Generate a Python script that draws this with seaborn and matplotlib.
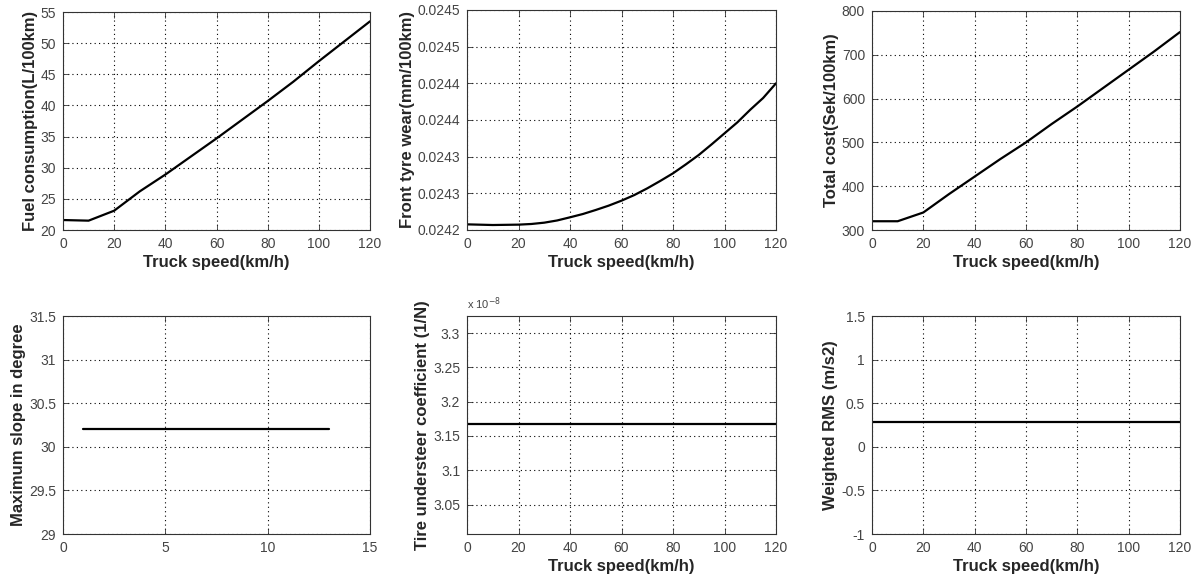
import matplotlib
matplotlib.use("Agg")
import matplotlib.pyplot as plt
import seaborn as sns
import pandas as pd
from matplotlib.ticker import FixedLocator, FixedFormatter

# ---- data ----
speed = [0, 10, 20, 30, 40, 50, 60, 70, 80, 90, 100, 110, 120]
fuel = [21.6, 21.5, 23.1, 26.2, 28.9, 31.8, 34.7, 37.7, 40.7, 43.8, 47.1, 50.3, 53.5]
cost = [320, 320, 340, 382, 422, 462, 500, 542, 582, 624, 666, 708, 752]
wear_speed = [0, 10, 20, 25, 30, 35, 40, 45, 50, 55, 60, 65, 70, 75, 80,
              85, 90, 95, 100, 105, 110, 115, 120]
wear = [0.0242077, 0.0242068, 0.0242073, 0.0242082, 0.0242100, 0.0242130,
        0.0242173, 0.0242218, 0.0242273, 0.0242332, 0.0242400, 0.0242477,
        0.0242568, 0.0242668, 0.0242773, 0.0242895, 0.0243023, 0.0243168,
        0.0243318, 0.0243468, 0.0243640, 0.0243800, 0.0244000]
slope_x = [1, 2, 3, 4, 5, 6, 7, 8, 9, 10, 11, 12, 13]
slope = [30.2] * 13
understeer = [3.168e-8] * 13
rms = [0.29] * 13

speed_ticks = [0, 20, 40, 60, 80, 100, 120]
fuel_ticks = [20, 25, 30, 35, 40, 45, 50, 55]
wear_ticks = [0.02420, 0.02425, 0.02430, 0.02435, 0.02440, 0.02445, 0.02450]
wear_labels = ["0.0242", "0.0243", "0.0243", "0.0244", "0.0244", "0.0245", "0.0245"]
cost_ticks = [300, 400, 500, 600, 700, 800]
slope_xticks = [0, 5, 10, 15]
slope_ticks = [29, 29.5, 30, 30.5, 31, 31.5]
slope_labels = ["29", "29.5", "30", "30.5", "31", "31.5"]
under_ticks = [3.05e-8, 3.10e-8, 3.15e-8, 3.20e-8, 3.25e-8, 3.30e-8]
under_labels = ["3.05", "3.1", "3.15", "3.2", "3.25", "3.3"]
rms_ticks = [-1, -0.5, 0, 0.5, 1, 1.5]
rms_labels = ["-1", "-0.5", "0", "0.5", "1", "1.5"]

XLABEL = "Truck speed(km/h)"

sns.set_style("ticks")
plt.rcParams["font.family"] = ["Liberation Sans", "DejaVu Sans"]

fig = plt.figure(figsize=(11.96, 5.77), dpi=100)

W, H = 1196, 577
def pos(l, t, r, b):
    return [l / W, 1 - b / H, (r - l) / W, (b - t) / H]

panels = [
    dict(rect=pos(63, 12, 370, 230), x=speed, y=fuel, xlim=(0, 120), ylim=(20, 55),
         xt=speed_ticks, yt=fuel_ticks, ytl=None, ylabel="Fuel consumption(L/100km)", xlabel=XLABEL),
    dict(rect=pos(467, 10, 776, 230), x=wear_speed, y=wear, xlim=(0, 120), ylim=(0.02420, 0.02450),
         xt=speed_ticks, yt=wear_ticks, ytl=wear_labels, ylabel="Front tyre wear(mm/100km)", xlabel=XLABEL),
    dict(rect=pos(872, 11, 1180, 230), x=speed, y=cost, xlim=(0, 120), ylim=(300, 800),
         xt=speed_ticks, yt=cost_ticks, ytl=None, ylabel="Total cost(Sek/100km)", xlabel=XLABEL),
    dict(rect=pos(63, 316, 370, 534), x=slope_x, y=slope, xlim=(0, 15), ylim=(29, 31.5),
         xt=slope_xticks, yt=slope_ticks, ytl=slope_labels, ylabel="Maximum slope in degree", xlabel=None),
    dict(rect=pos(467, 316, 776, 534), x=speed, y=understeer, xlim=(0, 120), ylim=(3.007e-8, 3.325e-8),
         xt=speed_ticks, yt=under_ticks, ytl=under_labels, ylabel="Tire understeer coefficient (1/N)", xlabel=XLABEL),
    dict(rect=pos(872, 316, 1180, 534), x=speed, y=rms, xlim=(0, 120), ylim=(-1, 1.5),
         xt=speed_ticks, yt=rms_ticks, ytl=rms_labels, ylabel="Weighted RMS (m/s2)", xlabel=XLABEL),
]

for i, p in enumerate(panels):
    ax = fig.add_axes(p["rect"])
    df = pd.DataFrame({"x": p["x"], "y": p["y"]})
    sns.lineplot(data=df, x="x", y="y", ax=ax, color="black", linewidth=1.6, estimator=None)
    ax.set_xlim(*p["xlim"])
    ax.set_ylim(*p["ylim"])
    ax.xaxis.set_major_locator(FixedLocator(p["xt"]))
    ax.yaxis.set_major_locator(FixedLocator(p["yt"]))
    if p["ytl"] is not None:
        ax.yaxis.set_major_formatter(FixedFormatter(p["ytl"]))
    ax.grid(True, linestyle=(0, (1, 3)), color="black", linewidth=0.8)
    ax.tick_params(direction="in", top=True, right=True, length=4, width=0.6,
                   labelsize=10, colors="#333333", labelcolor="#444444", pad=5)
    for s in ax.spines.values():
        s.set_linewidth(0.8)
        s.set_color("#333333")
    ax.set_ylabel(p["ylabel"], fontsize=12, fontweight="bold", labelpad=2)
    if p["xlabel"]:
        ax.set_xlabel(p["xlabel"], fontsize=12, fontweight="bold", labelpad=3)
    else:
        ax.set_xlabel("")
    if i == 4:
        ax.text(0.0, 1.02, r"x 10$^{-8}$", transform=ax.transAxes, fontsize=8,
                color="#444444", ha="left", va="bottom")

fig.savefig("out.png", dpi=100, facecolor="white")
